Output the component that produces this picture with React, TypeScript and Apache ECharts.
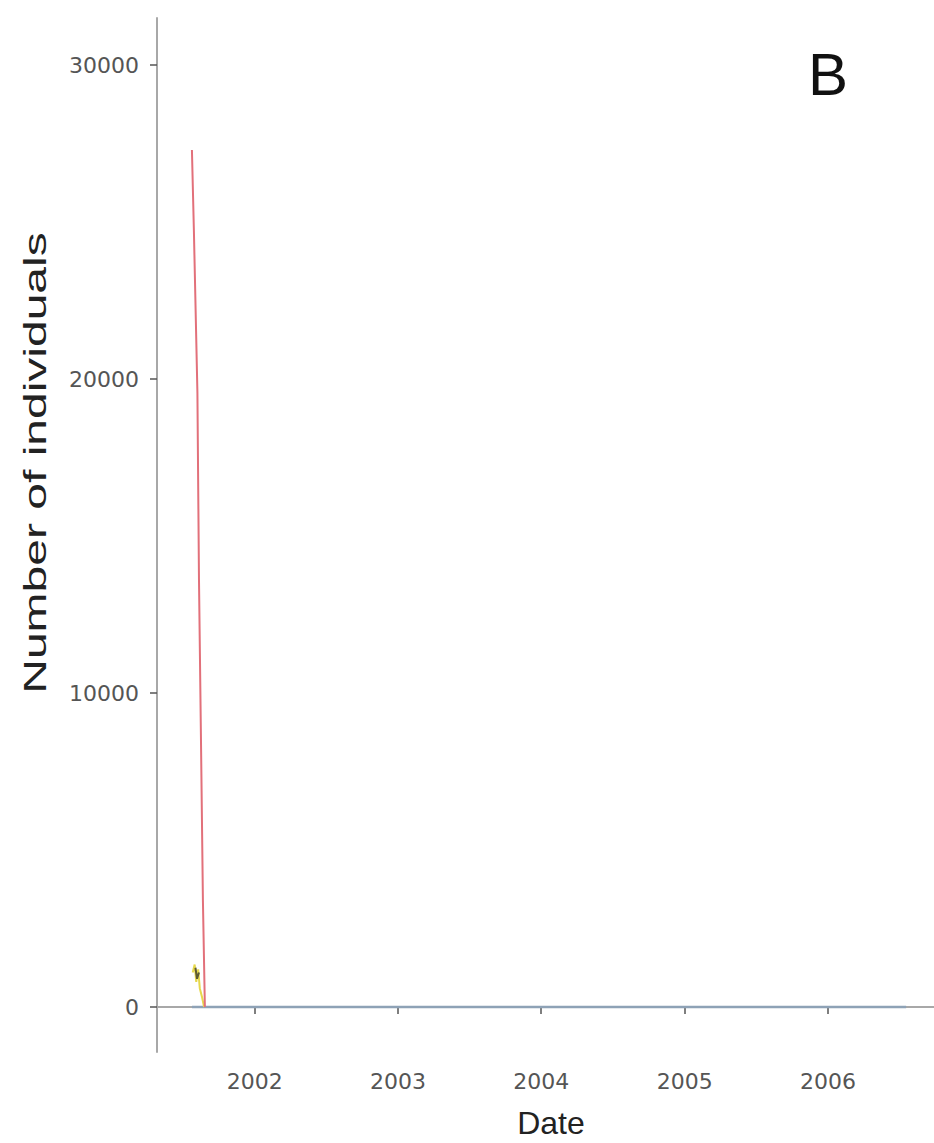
import React, { useEffect, useRef } from "react";
import * as echarts from "echarts";

// Red series (dates, number of individuals)
const redDates = ["2001-07-25", "2001-07-30", "2001-08-08", "2001-08-12", "2001-08-18", "2001-08-22", "2001-08-27"];
const redValues = [27290, 24740, 19550, 13600, 7550, 3400, 0];

// Yellow series
const yellowDates = ["2001-07-27", "2001-08-01", "2001-08-05", "2001-08-10", "2001-08-14", "2001-08-20", "2001-08-25"];
const yellowValues = [1100, 1350, 800, 1200, 600, 300, 0];

// Dark olive series
const oliveDates = ["2001-08-03", "2001-08-07", "2001-08-12"];
const oliveValues = [1250, 900, 1100];

// Blue series
const blueDates = ["2001-07-25", "2002-07-01", "2003-07-01", "2004-07-01", "2005-07-01", "2006-07-19"];
const blueValues = [0, 0, 0, 0, 0, 0];

const yTicks = [0, 10000, 20000, 30000];
const xTickYears = [2002, 2003, 2004, 2005, 2006];

const ts = (d: string) => {
  const [y, m, dd] = d.split("-").map(Number);
  return Date.UTC(y, m - 1, dd);
};
const pairs = (ds: string[], vs: number[]) => ds.map((d, i) => [ts(d), vs[i]]);

export default function App() {
  const ref = useRef<HTMLDivElement>(null);
  useEffect(() => {
    if (!ref.current) return;
    const chart = echarts.init(ref.current, undefined, { renderer: "svg" });
    const xTicks = xTickYears.map((y) => Date.UTC(y, 0, 1));
    chart.setOption({
      animation: false,
      backgroundColor: "#ffffff",
      grid: { left: 157, right: 0, top: 18, bottom: 91, containLabel: false },
      xAxis: {
        type: "value",
        min: Date.UTC(2001, 3, 27),
        max: Date.UTC(2006, 8, 28),
        axisLine: { show: true, lineStyle: { color: "#a8a8a8", width: 2 } },
        axisTick: { show: true, length: 7, customValues: xTicks, lineStyle: { color: "#555555", width: 1.5 } },
        axisLabel: {
          customValues: xTicks,
          margin: 18,
          fontFamily: "DejaVu Sans",
          fontSize: 22,
          color: "#555555",
          formatter: (v: number) => String(new Date(v).getUTCFullYear()),
        },
        splitLine: { show: false },
      },
      yAxis: {
        type: "value",
        min: -1433,
        max: 31497,
        axisLine: { show: true, lineStyle: { color: "#a8a8a8", width: 2 } },
        axisTick: { show: true, length: 7, customValues: yTicks, lineStyle: { color: "#555555", width: 1.5 } },
        axisLabel: {
          customValues: yTicks,
          margin: 18,
          fontFamily: "DejaVu Sans",
          fontSize: 22,
          color: "#555555",
          formatter: (v: number) => String(v),
        },
        splitLine: { show: false },
      },
      series: [
        {
          name: "blue",
          type: "line",
          data: pairs(blueDates, blueValues),
          showSymbol: false,
          lineStyle: { color: "#8ea2b6", width: 2.5 },
          z: 2,
        },
        {
          name: "yellow",
          type: "line",
          data: pairs(yellowDates, yellowValues),
          showSymbol: false,
          lineStyle: { color: "#e6d84c", width: 2 },
          z: 3,
        },
        {
          name: "olive",
          type: "line",
          data: pairs(oliveDates, oliveValues),
          showSymbol: false,
          lineStyle: { color: "#5e5a30", width: 2 },
          z: 3,
        },
        {
          name: "red",
          type: "line",
          data: pairs(redDates, redValues),
          showSymbol: false,
          lineStyle: { color: "#e2707a", width: 2 },
          z: 4,
        },
      ],
      graphic: [
        {
          type: "text",
          left: 808,
          top: 44,
          style: { text: "B", fontFamily: "Liberation Sans", fontSize: 60, fill: "#111111" },
        },
        {
          type: "text",
          x: 551,
          y: 1123,
          style: {
            text: "Date",
            fontFamily: "Liberation Sans",
            fontSize: 32,
            fill: "#222222",
            align: "center",
            verticalAlign: "middle",
          },
        },
        {
          type: "text",
          x: 35,
          y: 463,
          rotation: Math.PI / 2,
          scaleX: 1.5,
          style: {
            text: "Number of individuals",
            fontFamily: "Liberation Sans",
            fontSize: 32,
            fill: "#222222",
            align: "center",
            verticalAlign: "middle",
          },
        },
      ],
    });
    return () => chart.dispose();
  }, []);
  return <div ref={ref} style={{ position: "absolute", left: 0, top: 0, width: 934, height: 1143 }} />;
}
